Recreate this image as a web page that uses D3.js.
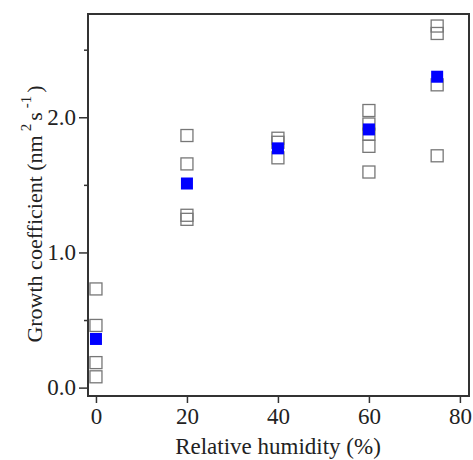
<!DOCTYPE html>
<html lang="en">
<head>
  <meta charset="UTF-8">
  <title>Growth coefficient vs RH</title>
  <script src="https://d3js.org/d3.v7.min.js"></script>
  <style>
    body { margin: 0; background: #fff; }
    text { font-family: "Liberation Serif", "Times New Roman", serif; fill: #222; }
  </style>
</head>
<body>
<div class="main"></div>
<script>
  // individual measurements (open squares)
  const rhOpen = [0, 0, 0, 0,
                  20, 20, 20, 20,
                  40, 40, 40,
                  60, 60, 60, 60, 60,
                  75, 75, 75, 75];
  const kOpen = [0.73, 0.46, 0.185, 0.08,
                 1.865, 1.655, 1.275, 1.245,
                 1.845, 1.815, 1.70,
                 2.05, 1.95, 1.875, 1.785, 1.595,
                 2.675, 2.62, 2.24, 1.715];
  // averages (filled blue squares)
  const rhMean = [0, 20, 40, 60, 75];
  const kMean = [0.36, 1.51, 1.77, 1.91, 2.30];

  const xTicks = [0, 20, 40, 60, 80];
  const yTicks = [0, 1, 2];
  const yMinor = [0.5, 1.5, 2.5];

  const width = 473, height = 460;
  const padL = 88, padT = 14, padR = 469, padB = 396;
  const box = 12;

  const svg = d3.select(".main").append("svg")
      .attr("width", width)
      .attr("height", height);

  const xScale = d3.scaleLinear().domain([-1.75, 82]).range([padL, padR]);
  const yScale = d3.scaleLinear().domain([-0.062, 2.764]).range([padB, padT]);

  // open squares
  svg.append("g").selectAll("rect")
      .data(d3.zip(rhOpen, kOpen))
      .join("rect")
      .attr("x", d => xScale(d[0]) - box / 2)
      .attr("y", d => yScale(d[1]) - box / 2)
      .attr("width", box)
      .attr("height", box)
      .attr("fill", "none")
      .attr("stroke", "#777")
      .attr("stroke-width", 1.3);

  // mean values
  svg.append("g").selectAll("rect")
      .data(d3.zip(rhMean, kMean))
      .join("rect")
      .attr("x", d => xScale(d[0]) - box / 2)
      .attr("y", d => yScale(d[1]) - box / 2)
      .attr("width", box)
      .attr("height", box)
      .attr("fill", "#0000ff");

  // axes
  const xAxis = d3.axisBottom(xScale).tickValues(xTicks).tickSize(7).tickPadding(5)
      .tickFormat(d3.format("d"));
  const yAxis = d3.axisLeft(yScale).tickValues(yTicks).tickSize(9).tickPadding(3)
      .tickFormat(d3.format(".1f"));
  const yAxisMinor = d3.axisLeft(yScale).tickValues(yMinor).tickSize(4).tickFormat("");

  function draw(axis, translate) {
    const g = svg.append("g").attr("transform", translate).call(axis);
    g.select(".domain").remove();
    g.selectAll("line").attr("stroke", "#333").attr("stroke-width", 1.5);
    g.selectAll("text").style("font-size", "23px").attr("fill", "#222");
    return g;
  }
  draw(xAxis, `translate(0, ${padB})`);
  draw(yAxis, `translate(${padL}, 0)`);
  draw(yAxisMinor, `translate(${padL}, 0)`);

  // frame
  svg.append("rect")
      .attr("x", padL).attr("y", padT)
      .attr("width", padR - padL).attr("height", padB - padT)
      .attr("fill", "none")
      .attr("stroke", "#333")
      .attr("stroke-width", 2);

  // axis titles
  svg.append("text")
      .attr("x", 278)
      .attr("y", 454)
      .attr("text-anchor", "middle")
      .style("font-size", "23px")
      .text("Relative humidity (%)");

  const yt = svg.append("text")
      .attr("transform", `translate(42, 214) rotate(-90)`)
      .attr("text-anchor", "middle")
      .style("font-size", "22px");
  yt.append("tspan").text("Growth coefficient (nm");
  yt.append("tspan").attr("dy", -11).attr("dx", 4).style("font-size", "15px").text("2");
  yt.append("tspan").attr("dy", 11).attr("dx", 3).text("s");
  yt.append("tspan").attr("dy", -11).attr("dx", 4).style("font-size", "15px").text("-1");
  yt.append("tspan").attr("dy", 11).attr("dx", 3).text(")");
</script>
</body>
</html>
